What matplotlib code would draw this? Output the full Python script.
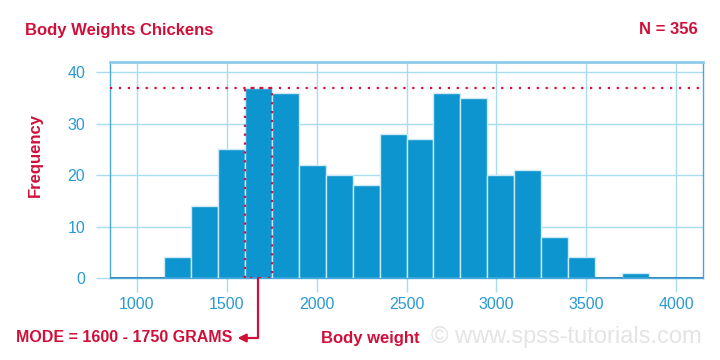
import numpy as np
import matplotlib.pyplot as plt

plt.rcParams['font.family'] = ['Liberation Sans', 'DejaVu Sans']

# histogram data: bin edges (grams) and counts
bin_start = 850
bin_width = 150
counts = [0, 0, 4, 14, 25, 37, 36, 22, 20, 18, 28, 27, 36, 35, 20, 21, 8, 4, 0, 1, 0, 0]
xticks = [1000, 1500, 2000, 2500, 3000, 3500, 4000]
yticks = [0, 10, 20, 30, 40]
mode_lo, mode_hi = 1600, 1750
n_total = 356

red = '#d0103a'
blue = '#0d95cf'
tickblue = '#2a9ad4'
gridblue = '#a8dcf0'
frameblue = '#4aa8d8'

edges = bin_start + bin_width * np.arange(len(counts))
mode_count = max(counts)

fig = plt.figure(figsize=(7.2, 3.6), dpi=100)
ax = fig.add_axes([0.1528, 0.2278, 0.8236, 0.6])

ax.bar(edges, counts, width=bin_width, align='edge', color=blue,
       edgecolor='#cde9f5', linewidth=1, zorder=3)
# zero bins drawn as a thin line
for e, c in zip(edges, counts):
    if c == 0:
        ax.plot([e, e + bin_width], [0, 0], color='#3d8db8', lw=1.5, zorder=4)

ax.set_xlim(bin_start, bin_start + bin_width * len(counts))
ax.set_ylim(0, 42)
ax.set_xticks(xticks)
ax.set_yticks(yticks)
ax.grid(True, color=gridblue, lw=1, zorder=0)
ax.set_axisbelow(True)
ax.tick_params(colors=gridblue, labelcolor=tickblue, labelsize=11.5,
               length=10, width=1)
ax.tick_params(axis='x', direction='out', pad=4)
ax.tick_params(axis='y', direction='out', pad=8)
for s in ax.spines.values():
    s.set_color(frameblue)
    s.set_linewidth(1)
ax.spines['top'].set_color('#8ccbea')
ax.spines['top'].set_linewidth(2)

# mode highlights
ax.axhline(mode_count, color=red, ls=(0, (1, 3)), lw=1.6, zorder=5)
ax.plot([mode_lo, mode_lo, mode_hi, mode_hi, mode_lo],
        [0, mode_count, mode_count, 0, 0],
        color=red, ls=(0, (1, 3)), lw=1.6, zorder=5)

ax.annotate('MODE = %d - %d GRAMS' % (mode_lo, mode_hi),
            xy=((mode_lo + mode_hi) / 2, 0), xycoords='data',
            xytext=(232 / 720, 1 - 338 / 360), textcoords='figure fraction',
            ha='right', va='center', fontsize=11.5, fontweight='bold', color=red,
            arrowprops=dict(arrowstyle='<|-', color=red, lw=1.6,
                            connectionstyle='angle,angleA=0,angleB=90,rad=0',
                            shrinkA=2, shrinkB=0, mutation_scale=12))

fig.text(25 / 720, 1 - 30 / 360, 'Body Weights Chickens', fontsize=12,
         fontweight='bold', color=red, va='center', ha='left')
fig.text(698 / 720, 1 - 30 / 360, 'N = %d' % n_total, fontsize=12,
         fontweight='bold', color=red, va='center', ha='right')
fig.text(35 / 720, 1 - 155 / 360, 'Frequency', fontsize=12, fontweight='bold',
         color=red, va='center', ha='center', rotation=90)
fig.text(370 / 720, 1 - 338 / 360, 'Body weight', fontsize=12,
         fontweight='bold', color=red, va='center', ha='center')
fig.text(702 / 720, 1 - 337 / 360, '\u00a9 www.spss-tutorials.com', fontsize=17,
         color='#e4e4e6', va='center', ha='right')

fig.savefig('out.png', dpi=100)
